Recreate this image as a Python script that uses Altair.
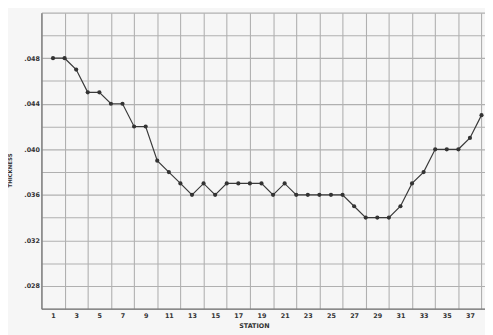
import altair as alt
import pandas as pd

stations = list(range(1, 39))
thickness = [0.048, 0.048, 0.047, 0.045, 0.045, 0.044, 0.044, 0.042, 0.042, 0.039,
             0.038, 0.037, 0.036, 0.037, 0.036, 0.037, 0.037, 0.037, 0.037, 0.036,
             0.037, 0.036, 0.036, 0.036, 0.036, 0.036, 0.035, 0.034, 0.034, 0.034,
             0.035, 0.037, 0.038, 0.040, 0.040, 0.040, 0.041, 0.043]

df = pd.DataFrame({"station": stations, "thickness": thickness})

x_vals = list(range(0, 39))
y_vals = [round(0.026 + 0.002 * i, 3) for i in range(14)]

font = "DejaVu Sans"

x = alt.X(
    "station:Q",
    scale=alt.Scale(domain=[0, 38.3], nice=False, zero=False),
    axis=alt.Axis(
        values=x_vals,
        title="STATION",
        titleFont=font, titleFontSize=6.5, titleFontWeight="bold", titleColor="#333",
        titleY=17, titleBaseline="middle", titleX=216,
        labelExpr="datum.value % 2 == 1 ? datum.value : ''",
        labelFont=font, labelFontSize=6.5, labelFontWeight="bold", labelColor="#333",
        labelPadding=4, labelFlush=False, labelOverlap=False,
        ticks=False, domainColor="#777", domainWidth=1.3,
        grid=True, gridColor="#b0b0b0", gridWidth=1.1,
        gridOpacity={"condition": {"test": "datum.value % 2 == 1", "value": 0}, "value": 1},
    ),
)
y = alt.Y(
    "thickness:Q",
    scale=alt.Scale(domain=[0.026, 0.052], nice=False, zero=False),
    axis=alt.Axis(
        values=y_vals,
        title="THICKNESS",
        titleFont=font, titleFontSize=5.5, titleFontWeight="bold", titleColor="#333",
        titleX=-32, titleY=160, titleAngle=-90, titleBaseline="middle", titleAlign="center",
        labelExpr="(round(datum.value*1000) % 4 == 0 && datum.value < 0.05) ? substring(format(datum.value, '.3f'), 1) : ''",
        labelFont=font, labelFontSize=6.5, labelFontWeight="bold", labelColor="#333",
        labelPadding=2, labelFlush=False, labelOverlap=False,
        ticks=False, domainColor="#777", domainWidth=1.3,
        grid=True, gridColor="#b0b0b0", gridWidth=1.1,
    ),
)

line = alt.Chart(df).mark_line(color="#3a3a3a", strokeWidth=1.2).encode(x=x, y=y)
pts = alt.Chart(df).mark_circle(color="#333", size=18, opacity=1).encode(x=x, y=y)

chart = (line + pts).properties(
    width=451, height=301,
    background="#f6f6f6",
    padding={"left": 34, "top": 2, "right": 0, "bottom": 24},
    autosize=alt.AutoSizeParams(type="none"),
).configure_view(stroke=None)

chart.save("out.html", embed_options={"renderer": "svg", "actions": False})
